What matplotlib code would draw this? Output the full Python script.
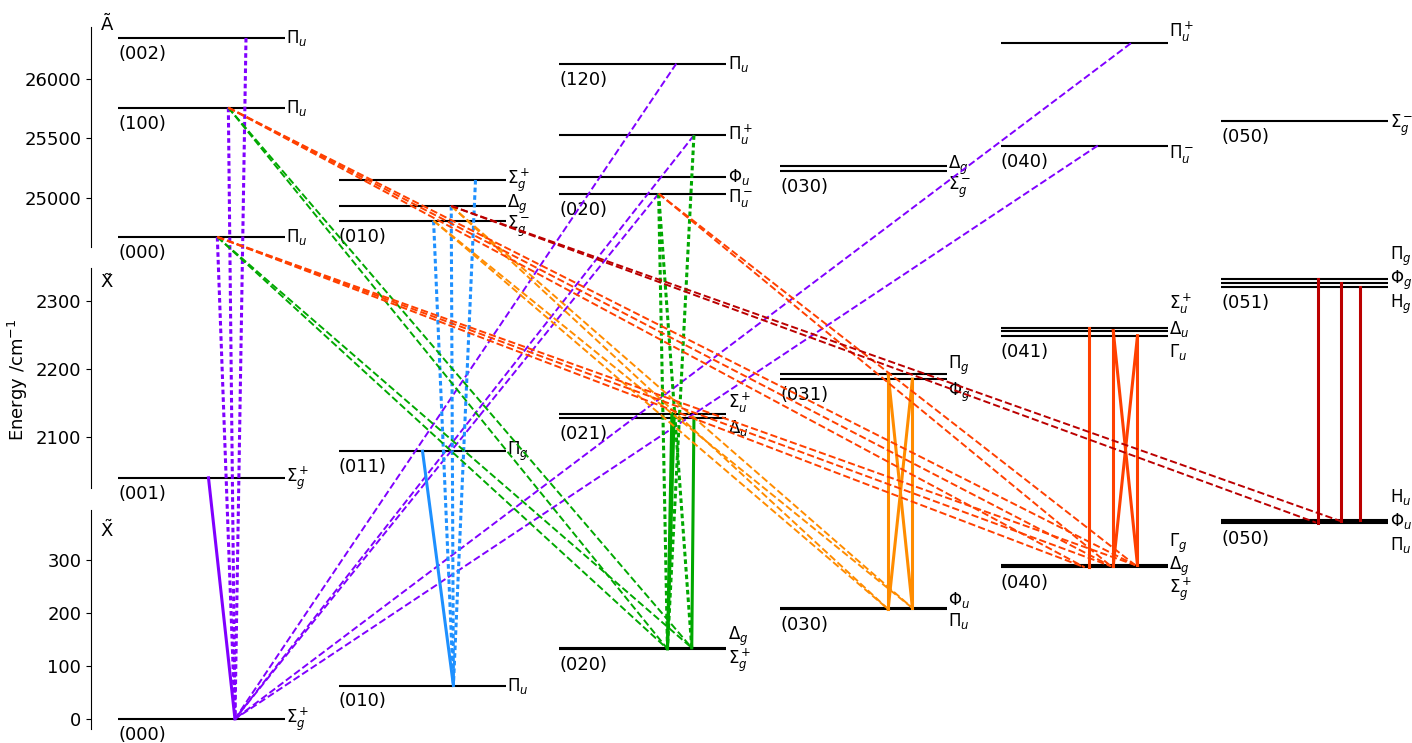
import matplotlib.pyplot as plt
from matplotlib.lines import Line2D

# ---- vibronic levels of C3 (energies in cm-1) ----
names = ['A000', 'A100', 'A002', 'A010_Sp', 'A010_D', 'A010_Sm', 'A120', 'A020_Pp',
         'A020_F', 'A020_Pm', 'A030_D', 'A030_Sm', 'A040_Pp', 'A040_Pm', 'A050_Sm',
         'X001', 'X011', 'X021_S', 'X021_D', 'X031_P', 'X031_F', 'X041_S', 'X041_D',
         'X041_G', 'X051_P', 'X051_F', 'X051_H',
         'X000', 'X010', 'X020_D', 'X020_S', 'X030_F', 'X030_P', 'X040_G', 'X040_D',
         'X040_S', 'X050_H', 'X050_F', 'X050_P']
cols = [0, 0, 0, 1, 1, 1, 2, 2, 2, 2, 3, 3, 4, 4, 5,
        0, 1, 2, 2, 3, 3, 4, 4, 4, 5, 5, 5,
        0, 1, 2, 2, 3, 3, 4, 4, 4, 5, 5, 5]
energies = [24672, 25759, 26345, 25151, 24933, 24809, 26129, 25527, 25179, 25036,
            25269, 25229, 26300, 25440, 25650,
            2040, 2079, 2134.5, 2127.7, 2193, 2185, 2260, 2256.5, 2249, 2332, 2327, 2321,
            0, 63, 134, 132, 209, 207, 290, 288, 286, 376, 373, 370]
symbols = [r'$\Pi_u$', r'$\Pi_u$', r'$\Pi_u$', r'$\Sigma_g^+$', r'$\Delta_g$', r'$\Sigma_g^-$',
           r'$\Pi_u$', r'$\Pi_u^+$', r'$\Phi_u$', r'$\Pi_u^-$', r'$\Delta_g$', r'$\Sigma_g^-$',
           r'$\Pi_u^+$', r'$\Pi_u^-$', r'$\Sigma_g^-$',
           r'$\Sigma_g^+$', r'$\Pi_g$', r'$\Sigma_u^+$', r'$\Delta_u$', r'$\Pi_g$', r'$\Phi_g$',
           r'$\Sigma_u^+$', r'$\Delta_u$', r'$\Gamma_u$', r'$\Pi_g$', r'$\Phi_g$', r'$\mathrm{H}_g$',
           r'$\Sigma_g^+$', r'$\Pi_u$', r'$\Delta_g$', r'$\Sigma_g^+$', r'$\Phi_u$', r'$\Pi_u$',
           r'$\Gamma_g$', r'$\Delta_g$', r'$\Sigma_g^+$', r'$\mathrm{H}_u$', r'$\Phi_u$', r'$\Pi_u$']
vib = ['(000)', '(100)', '(002)', '', '', '(010)', '(120)', '', '', '(020)', '', '(030)',
       '', '(040)', '(050)',
       '(001)', '(011)', '', '(021)', '', '(031)', '', '', '(041)', '', '', '(051)',
       '(000)', '(010)', '', '(020)', '', '(030)', '', '', '(040)', '', '', '(050)']

# vertical nudge of the symmetry labels (pixels)
label_dy = [0, 0, 0, 0, 2, -6, 0, 0, 0, -4, 1, -17, 11, -8, -5,
            0, 0, 11, -10, 8, -13, 24, 2, -16, 23, 2, -18,
            0, 0, 11, -11, 8, -12, 22, 0, -22, 23, 0, -22]

# ---- transitions: (upper, x on upper, lower, x on lower, style) ----
transitions = [
    # v2'' = 0
    ('X001', 0.41, 'X000', 0.53, 'solid'),
    ('A000', 0.45, 'X000', 0.53, 'dotted'),
    ('A100', 0.50, 'X000', 0.53, 'dotted'),
    ('A002', 0.58, 'X000', 0.53, 'dotted'),
    ('A120', 0.53, 'X000', 0.53, 'dashed'),
    ('A020_Pp', 0.61, 'X000', 0.53, 'dashed'),
    ('A020_Pm', 0.45, 'X000', 0.53, 'dashed'),
    ('A040_Pp', 0.59, 'X000', 0.53, 'dashed'),
    ('A040_Pm', 0.44, 'X000', 0.53, 'dashed'),
    # v2'' = 1
    ('X011', 0.38, 'X010', 0.52, 'solid'),
    ('A010_Sp', 0.62, 'X010', 0.52, 'dotted'),
    ('A010_D', 0.51, 'X010', 0.52, 'dotted'),
    ('A010_Sm', 0.43, 'X010', 0.52, 'dotted'),
    # v2'' = 2
    ('X021_S', 0.51, 'X020_S', 0.49, 'solid'),
    ('X021_D', 0.52, 'X020_D', 0.49, 'solid'),
    ('X021_D', 0.61, 'X020_D', 0.60, 'solid'),
    ('A020_Pm', 0.45, 'X020_S', 0.49, 'dotted'),
    ('A020_Pm', 0.45, 'X020_D', 0.60, 'dotted'),
    ('A020_Pp', 0.61, 'X020_D', 0.49, 'dotted'),
    ('A100', 0.50, 'X020_S', 0.49, 'dashed'),
    ('A100', 0.50, 'X020_D', 0.60, 'dashed'),
    ('A000', 0.45, 'X020_S', 0.49, 'dashed'),
    ('A000', 0.45, 'X020_D', 0.60, 'dashed'),
    # v2'' = 3
    ('X031_P', 0.49, 'X030_P', 0.49, 'solid'),
    ('X031_P', 0.49, 'X030_F', 0.60, 'solid'),
    ('X031_F', 0.60, 'X030_F', 0.60, 'solid'),
    ('X031_F', 0.60, 'X030_P', 0.49, 'solid'),
    ('A010_D', 0.51, 'X030_P', 0.49, 'dashed'),
    ('A010_D', 0.51, 'X030_F', 0.60, 'dashed'),
    ('A010_Sm', 0.43, 'X030_P', 0.49, 'dashed'),
    ('A010_Sm', 0.43, 'X030_F', 0.60, 'dashed'),
    # v2'' = 4
    ('X041_S', 0.40, 'X040_S', 0.40, 'solid'),
    ('X041_D', 0.51, 'X040_D', 0.51, 'solid'),
    ('X041_G', 0.62, 'X040_G', 0.62, 'solid'),
    ('X041_D', 0.51, 'X040_G', 0.62, 'solid'),
    ('X041_G', 0.62, 'X040_D', 0.51, 'solid'),
    ('A100', 0.50, 'X040_S', 0.38, 'dashed'),
    ('A100', 0.50, 'X040_D', 0.50, 'dashed'),
    ('A100', 0.50, 'X040_G', 0.61, 'dashed'),
    ('A000', 0.45, 'X040_S', 0.38, 'dashed'),
    ('A000', 0.45, 'X040_D', 0.50, 'dashed'),
    ('A000', 0.45, 'X040_G', 0.61, 'dashed'),
    ('A020_Pm', 0.45, 'X040_D', 0.50, 'dashed'),
    ('A020_Pm', 0.45, 'X040_G', 0.61, 'dashed'),
    # v2'' = 5
    ('X051_P', 0.44, 'X050_P', 0.44, 'solid'),
    ('X051_F', 0.54, 'X050_F', 0.54, 'solid'),
    ('X051_H', 0.63, 'X050_H', 0.63, 'solid'),
    ('A010_D', 0.51, 'X050_P', 0.43, 'dashed'),
    ('A010_D', 0.51, 'X050_F', 0.54, 'dashed'),
]

colors = {0: '#8000ff', 1: '#1e90ff', 2: '#00a800', 3: '#ff8c00', 4: '#ff4000', 5: '#bb0000'}
styles = {'solid': dict(ls='-', lw=2.2),
          'dashed': dict(ls='--', lw=1.4),
          'dotted': dict(ls=(0, (1.5, 1.0)), lw=2.2)}

width = 0.757

fig = plt.figure(figsize=(14.12, 7.43), dpi=100)
ax_top = fig.add_axes([0.06445, 0.6676, 0.9193, 0.2961])
ax_mid = fig.add_axes([0.06445, 0.3432, 0.9193, 0.2961])
ax_bot = fig.add_axes([0.06445, 0.01884, 0.9193, 0.2948])

ax_top.set_ylim(24588, 26437)
ax_mid.set_ylim(2025, 2348.5)
ax_bot.set_ylim(-19, 394)
ax_top.set_yticks([25000, 25500, 26000])
ax_mid.set_yticks([2100, 2200, 2300])
ax_bot.set_yticks([0, 100, 200, 300])

for ax in (ax_top, ax_mid, ax_bot):
    ax.set_xlim(-0.1224, 5.76)
    ax.set_xticks([])
    for pos in ['right', 'top', 'bottom']:
        ax.spines[pos].set_visible(False)
    ax.tick_params(axis='y', labelsize=13)
    ax.patch.set_visible(False)


def axis_of(E):
    if E > 20000:
        return ax_top
    if E > 1000:
        return ax_mid
    return ax_bot


for i, key in enumerate(names):
    ax = axis_of(energies[i])
    ax.plot([cols[i], cols[i] + width], [energies[i], energies[i]], color='k', lw=1.5,
            solid_capstyle='butt')
    ax.annotate(symbols[i], xy=(cols[i] + width, energies[i]),
                xytext=(1, label_dy[i] * 0.72), textcoords='offset points',
                ha='left', va='center', fontsize=12)
    if vib[i]:
        ax.annotate(vib[i], xy=(cols[i], energies[i]), xytext=(0, -5),
                    textcoords='offset points', ha='left', va='top', fontsize=13)


def fig_xy(key, rel):
    i = names.index(key)
    ax = axis_of(energies[i])
    disp = ax.transData.transform((cols[i] + rel, energies[i]))
    return fig.transFigure.inverted().transform(disp)


for up, xu, low, xl, st in transitions:
    p1 = fig_xy(up, xu)
    p2 = fig_xy(low, xl)
    v2 = int(low[2])
    fig.add_artist(Line2D([p1[0], p2[0]], [p1[1], p2[1]], transform=fig.transFigure,
                          color=colors[v2], **styles[st]))

fig.text(0.0758, 0.966, 'Ã', fontsize=13, ha='center', va='center')
fig.text(0.0758, 0.621, 'X\u0303', fontsize=13, ha='center', va='center')
fig.text(0.0758, 0.286, r'$\tilde{\mathrm{X}}$', fontsize=13, ha='center', va='center')
fig.text(0.0127, 0.4886, 'Energy /cm$^{-1}$', rotation=90, fontsize=13,
         ha='center', va='center')

fig.savefig('out.png', dpi=100)
